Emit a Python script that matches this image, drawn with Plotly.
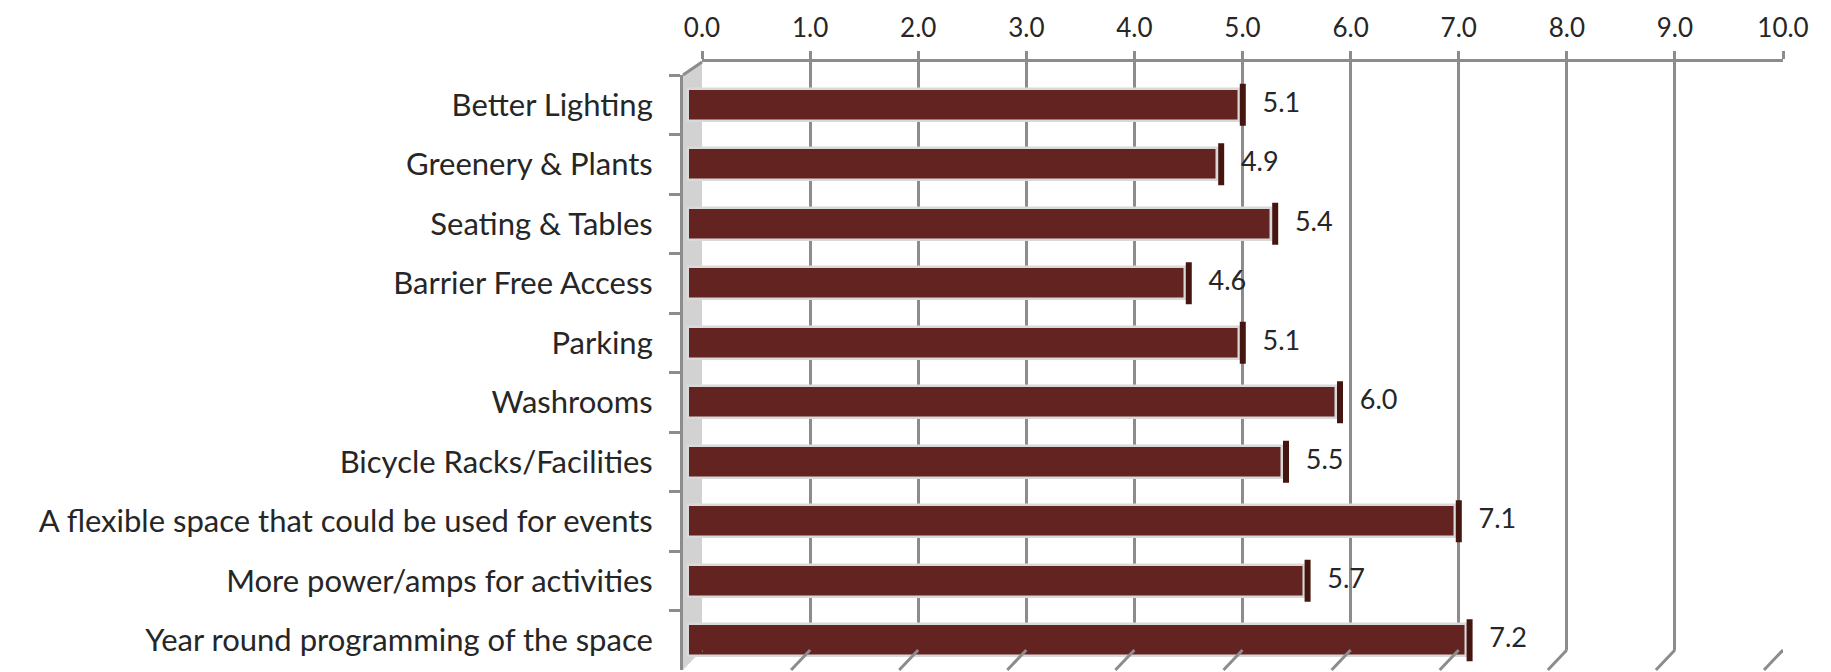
import plotly.graph_objects as go

# chart values
categories = [
    "Better Lighting",
    "Greenery & Plants",
    "Seating & Tables",
    "Barrier Free Access",
    "Parking",
    "Washrooms",
    "Bicycle Racks/Facilities",
    "A flexible space that could be used for events",
    "More power/amps for activities",
    "Year round programming of the space",
]
scores = [5.1, 4.9, 5.4, 4.6, 5.1, 6.0, 5.5, 7.1, 5.7, 7.2]
grid_ticks = [0, 1, 2, 3, 4, 5, 6, 7, 8, 9, 10]

W, H = 1831, 672
OFF = 8  # page body margin
GRAY = "#8c8c8c"
FONT = dict(family="Lato", size=27, color="#262626")
TICK_FONT = dict(family="Lato", size=26, color="#262626")
CAT_FONT = dict(family="Lato", size=31, color="#262626")


# screen pixel -> paper helpers
def px(x):
    return (x - OFF) / W


def py(y):
    return 1 - (y - OFF) / H


fig = go.Figure()

# bars (front plane)
fig.add_trace(go.Bar(
    x=scores, y=categories, orientation="h",
    xaxis="x2", yaxis="y",
    width=0.54,
    marker=dict(color="#622321", line=dict(color="#d9d9d9", width=2.5)),
    hoverinfo="x+y",
))

# end caps + value labels
fig.add_trace(go.Scatter(
    x=scores, y=categories,
    xaxis="x3", yaxis="y",
    mode="markers+text",
    marker=dict(symbol="line-ns", size=30, line=dict(color="#45160f", width=6)),
    text=[f"{v:.1f}" for v in scores],
    textposition="middle right",
    textfont=FONT,
    hoverinfo="skip",
))

# back wall axis (gridlines + top labels)
fig.add_trace(go.Scatter(x=[], y=[], xaxis="x", yaxis="y2", hoverinfo="skip"))

shapes = [
    # left wall
    dict(type="path", xref="paper", yref="paper",
         path=f"M {px(683)},{py(75)} L {px(702)},{py(62)} L {px(702)},{py(650)} L {px(683)},{py(670)} Z",
         fillcolor="#d2d2d2", line=dict(width=0), layer="below"),
    dict(type="line", xref="paper", yref="paper",
         x0=px(683), y0=py(75), x1=px(702), y1=py(62),
         line=dict(color=GRAY, width=3)),
]
# floor edges under each gridline
for t in grid_ticks:
    shapes.append(dict(type="line", xref="x", yref="paper",
                       xsizemode="pixel", xanchor=t, x0=0, x1=-19,
                       y0=py(650), y1=py(670),
                       line=dict(color=GRAY, width=3)))

fig.update_layout(
    width=W, height=H, autosize=False,
    margin=dict(l=0, r=0, t=0, b=0, pad=0),
    plot_bgcolor="rgba(0,0,0,0)", paper_bgcolor="white",
    showlegend=False,
    bargap=0,
    shapes=shapes,
    xaxis=dict(
        domain=[px(702), px(1783)], range=[0, 10], anchor="y2", side="top",
        tickvals=grid_ticks, tickformat=".1f",
        showgrid=True, gridcolor=GRAY, gridwidth=3,
        showline=True, linecolor=GRAY, linewidth=3,
        ticks="outside", ticklen=8, tickwidth=3, tickcolor=GRAY,
        ticklabelstandoff=4, zeroline=False, tickfont=TICK_FONT, automargin=False,
    ),
    yaxis2=dict(domain=[py(650), py(62)], range=[0, 1], anchor="x", visible=False, automargin=False),
    xaxis2=dict(domain=[px(683), px(1768)], range=[-0.046, 10], anchor="y", visible=False, automargin=False),
    xaxis3=dict(domain=[px(687), px(1772)], range=[-0.046, 10], anchor="y", visible=False, automargin=False),
    yaxis=dict(
        domain=[py(670), py(75)], type="category", range=[9.5, -0.5], anchor="x2",
        showline=True, linecolor=GRAY, linewidth=3,
        ticks="outside", tickson="boundaries", ticklen=11, tickwidth=3, tickcolor=GRAY,
        ticklabelstandoff=21, showgrid=False, tickfont=CAT_FONT, automargin=False,
    ),
)

fig.write_html("out.html")
